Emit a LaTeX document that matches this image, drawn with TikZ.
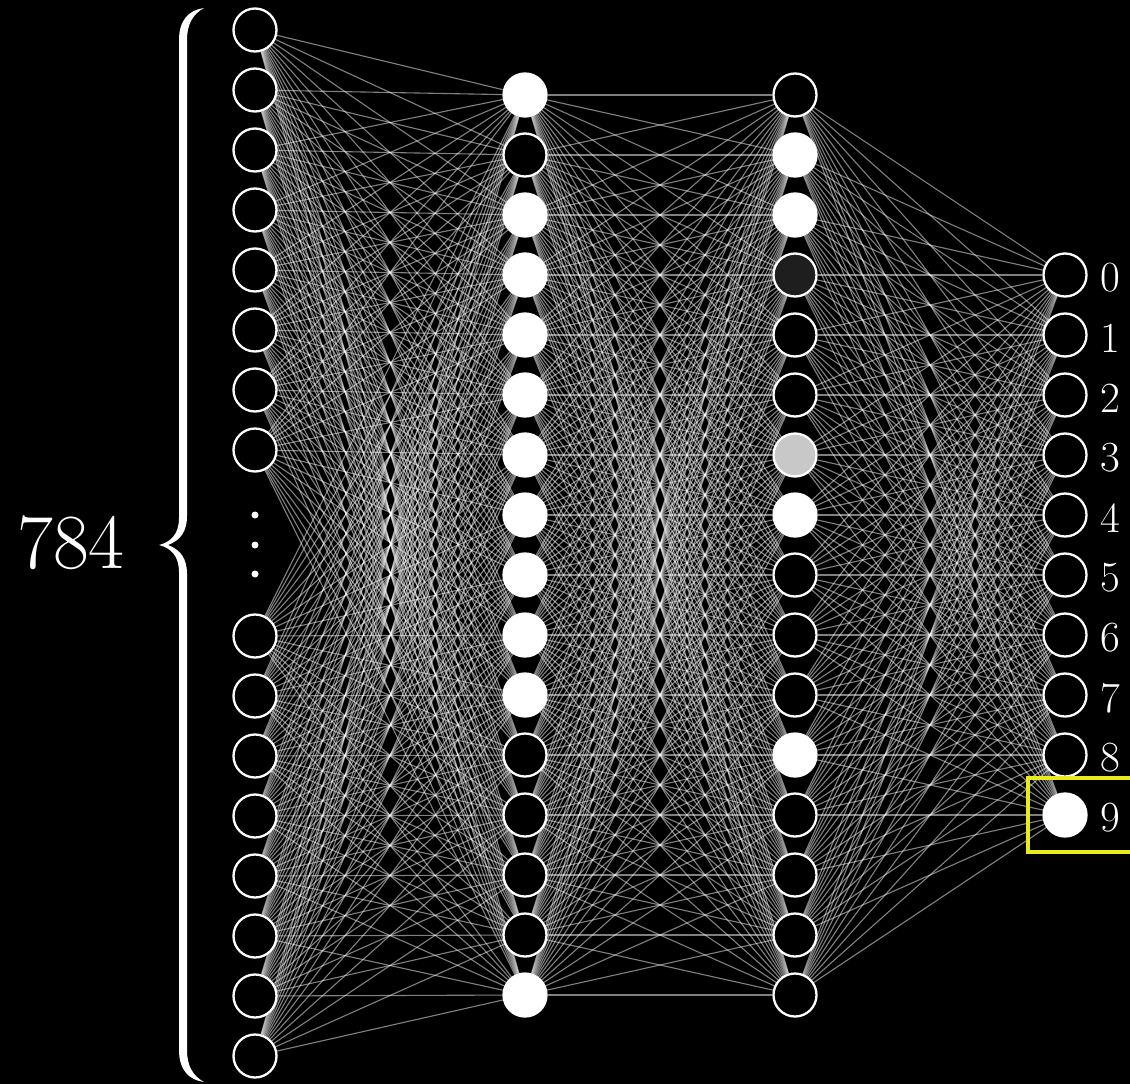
\documentclass[tikz,border=0pt]{standalone}
\usepackage{fontspec}
\pgfdeclarelayer{back}
\pgfdeclarelayer{edges}
\pgfsetlayers{back,edges,main}
\definecolor{hlyellow}{RGB}{232,236,30}
\definecolor{darkact}{RGB}{30,30,30}
\definecolor{lightact}{RGB}{200,200,200}
\begin{document}
\begin{tikzpicture}[x=1pt,y=-1pt,
  neuron/.style={circle,draw=white,line width=2.3pt,minimum size=43pt,inner sep=0pt,fill=black},
  link/.style={draw=white,line width=1.1pt,opacity=0.5},
  lbl/.style={text=white,font=\fontsize{43}{46}\selectfont,inner sep=0pt},
  dotn/.style={circle,fill=white,draw=none,minimum size=7pt,inner sep=0pt}]
\begin{pgfonlayer}{back}
\fill[black] (0,0) rectangle (1130,1084);
\end{pgfonlayer}
\useasboundingbox (0,0) rectangle (1130,1084);

% input layer
\foreach \i in {1,...,8} \node[neuron] (a\i) at (255,{30+60*(\i-1)}) {};
\foreach \i in {9,...,16} \node[neuron] (a\i) at (255,{636+60*(\i-9)}) {};
\node[dotn] (d1) at (255,515) {};
\node[dotn] (d2) at (255,545) {};
\node[dotn] (d3) at (255,574) {};

% hidden layer 1
\foreach \i/\c in {1/white,2/black,3/white,4/white,5/white,6/white,7/white,8/white,9/white,10/white,11/white,12/black,13/black,14/black,15/black,16/white}
  \node[neuron,fill=\c] (b\i) at (525,{95+60*(\i-1)}) {};

% hidden layer 2
\foreach \i/\c in {1/black,2/white,3/white,4/darkact,5/black,6/black,7/lightact,8/white,9/black,10/black,11/black,12/white,13/black,14/black,15/black,16/black}
  \node[neuron,fill=\c] (c\i) at (795,{95+60*(\i-1)}) {};

% output layer
\foreach \i/\c in {0/black,1/black,2/black,3/black,4/black,5/black,6/black,7/black,8/black,9/white}
  \node[neuron,fill=\c] (o\i) at (1065,{275+60*\i}) {};
\foreach \i in {0,...,9}
  \node[lbl] (l\i) at (1110,{278+60*\i}) {\i};

% connections
\begin{pgfonlayer}{edges}
\foreach \i in {1,...,16}
  \foreach \j in {1,...,16}
    \draw[link] (a\i) -- (b\j);
\foreach \i in {1,...,16}
  \foreach \j in {1,...,16}
    \draw[link] (b\i) -- (c\j);
\foreach \i in {1,...,16}
  \foreach \j in {0,...,9}
    \draw[link] (c\i) -- (o\j);
\end{pgfonlayer}

% highlight box
\draw[hlyellow,line width=3.5pt] (1136,778) -- (1028,778) -- (1028,852) -- (1136,852);

% brace
\fill[white] (204,8) .. controls (189,10) and (179,20) .. (179,40)
  -- (179,518) .. controls (179,534) and (171,542) .. (159,545)
  .. controls (171,548) and (179,556) .. (179,572)
  -- (179,1050) .. controls (179,1070) and (189,1080) .. (204,1082)
  .. controls (193,1076) and (187,1066) .. (187,1050)
  -- (187,574) .. controls (187,559) and (181,550) .. (168,545)
  .. controls (181,540) and (187,531) .. (187,516)
  -- (187,40) .. controls (187,24) and (193,14) .. (204,8) -- cycle;
\node[text=white,font=\fontsize{78}{84}\selectfont,inner sep=0pt] (n784) at (71,543) {784};
\end{tikzpicture}
\end{document}
